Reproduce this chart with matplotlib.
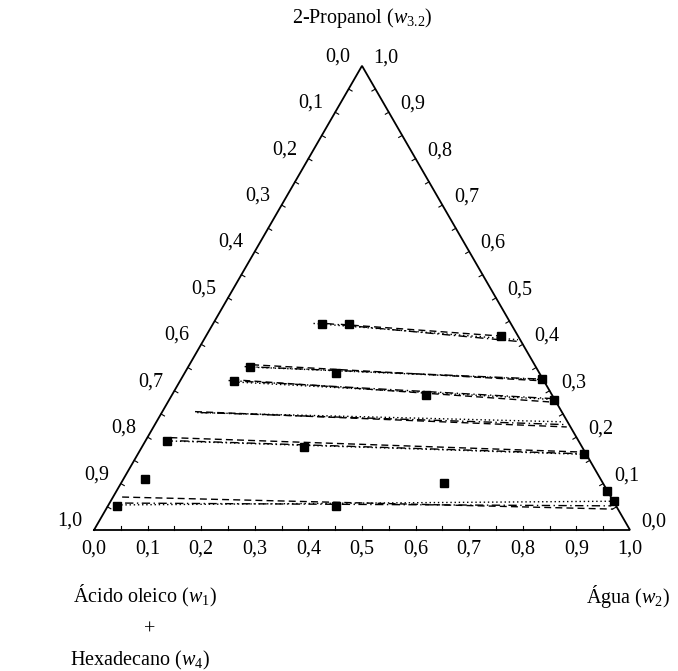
import numpy as np
import matplotlib.pyplot as plt

plt.rcParams['font.family'] = ['Liberation Serif', 'DejaVu Serif']
plt.rcParams['mathtext.fontset'] = 'custom'
plt.rcParams['mathtext.rm'] = 'Liberation Serif'
plt.rcParams['mathtext.it'] = 'Liberation Serif:italic'

# experimental points, mass fractions (w2 = Agua, w3 = 2-Propanol)
exp_w2 = [0.204, 0.253, 0.550, 0.115, 0.283, 0.674, 0.102, 0.474, 0.718,
          0.041, 0.303, 0.833, 0.017, 0.426, 0.938, 0.040, 0.602, 0.916]
exp_w3 = [0.443, 0.444, 0.417, 0.351, 0.338, 0.325, 0.320, 0.290, 0.281,
          0.192, 0.178, 0.163, 0.052, 0.052, 0.063, 0.110, 0.102, 0.084]

# tie lines (start, end)
tie_dotted_w2 = [(0.187, 0.586), (0.115, 0.674), (0.102, 0.718), (0.066, 0.760), (0.041, 0.833), (0.016, 0.938)]
tie_dotted_w3 = [(0.445, 0.410), (0.351, 0.324), (0.319, 0.281), (0.253, 0.233), (0.192, 0.163), (0.054, 0.062)]
tie_dashed_w2 = [(0.239, 0.560), (0.117, 0.665), (0.096, 0.711), (0.061, 0.771), (0.043, 0.824), (0.017, 0.946)]
tie_dashed_w3 = [(0.443, 0.417), (0.356, 0.322), (0.324, 0.276), (0.255, 0.222), (0.199, 0.168), (0.071, 0.045)]
tie_dashdot_w2 = [(0.210, 0.590), (0.105, 0.674), (0.090, 0.715), (0.072, 0.767), (0.065, 0.834), (0.029, 0.939)]
tie_dashdot_w3 = [(0.445, 0.406), (0.352, 0.325), (0.322, 0.283), (0.253, 0.227), (0.192, 0.164), (0.058, 0.052)]

tick_values = [i / 10 for i in range(11)]
tick_labels = ['%.1f' % v for v in tick_values]
tick_labels = [t.replace('.', ',') for t in tick_labels]

SQ3 = np.sqrt(3) / 2
PX = 1 / 536.0  # one pixel in data units


def to_xy(w2, w3):
    w2 = np.asarray(w2, dtype=float)
    w3 = np.asarray(w3, dtype=float)
    return w2 + w3 / 2, w3 * SQ3


fig = plt.figure(figsize=(6.78, 6.71), dpi=100)
ax = fig.add_axes([0, 0, 1, 1])
ax.set_xlim(-94 * PX, (678 - 94) * PX)
ax.set_ylim(-141 * PX, 530 * PX)
ax.axis('off')

# triangle
ax.plot([0, 1, 0.5, 0], [0, 0, SQ3, 0], color='black', lw=1.3, solid_joinstyle='miter', zorder=3)

# small inward ticks every 0.05
tl = 4 * PX
for k in range(1, 20):
    f = k / 20
    # bottom
    ax.plot([f, f], [0, tl], color='black', lw=0.8)
    # left edge
    x, y = 0.5 * f, SQ3 * f
    ax.plot([x, x + tl * SQ3], [y, y - tl * 0.5], color='black', lw=0.8)
    # right edge
    x, y = 1 - 0.5 * f, SQ3 * f
    ax.plot([x, x - tl * SQ3], [y, y - tl * 0.5], color='black', lw=0.8)

fs = 14.5
for v, lab in zip(tick_values, tick_labels):
    # bottom: w2
    ax.text(v, -19 * PX, lab, ha='center', va='center', fontsize=fs)
    # left: w1 + w4, 0 at the top
    x, y = 0.5 - 0.5 * v, SQ3 * (1 - v)
    ax.text(x - 24 * PX, y + 9 * PX, lab, ha='center', va='center', fontsize=fs)
    # right: w3, 0 at the bottom
    x, y = 1 - 0.5 * v, SQ3 * v
    ax.text(x + 24 * PX, y + 8 * PX, lab, ha='center', va='center', fontsize=fs)

# tie lines
for w2s, w3s, ls in [(tie_dotted_w2, tie_dotted_w3, (0, (1, 2))),
                     (tie_dashed_w2, tie_dashed_w3, (0, (5, 3))),
                     (tie_dashdot_w2, tie_dashdot_w3, (0, (6, 2.5, 1, 2.5)))]:
    for a, b in zip(w2s, w3s):
        x, y = to_xy(a, b)
        ax.plot(x, y, color='black', lw=1.0, linestyle=ls)

x, y = to_xy(exp_w2, exp_w3)
ax.plot(x, y, 's', color='black', markersize=6, linestyle='none', zorder=4)

# axis names
ax.text(0.5, (530 - 18) * PX, '2-Propanol ($w_{3.2}$)', ha='center', va='center', fontsize=fs)
ax.text((145 - 94) * PX, (530 - 596) * PX, 'Ácido oleico ($w_1$)', ha='center', va='center', fontsize=fs)
ax.text((150 - 94) * PX, (530 - 630) * PX, '+', ha='center', va='center', fontsize=fs)
ax.text((140 - 94) * PX, (530 - 660) * PX, 'Hexadecano ($w_4$)', ha='center', va='center', fontsize=fs)
ax.text((628 - 94) * PX, (530 - 596) * PX, 'Água ($w_2$)', ha='center', va='center', fontsize=fs)

fig.savefig('out.png', dpi=100)
